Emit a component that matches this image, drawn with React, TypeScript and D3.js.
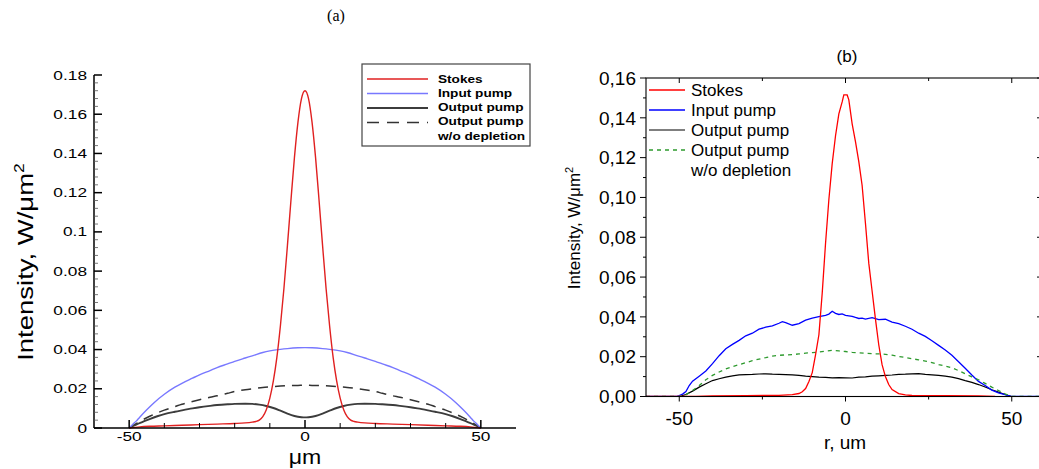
import * as d3 from 'd3';

// ---- panel (a): simulated beam profiles (x in um, intensity in W/um^2)
const stokesA: [number, number][] = [
  [-50, 0], [-47, 0.0006], [-44, 0.0009], [-40, 0.0011], [-35, 0.0014], [-30, 0.0017], [-25, 0.002],
  [-20, 0.0023], [-17, 0.0026], [-15, 0.003], [-14, 0.0033], [-13, 0.004], [-12, 0.0058], [-11, 0.0093],
  [-10, 0.0152], [-9, 0.024], [-8, 0.036], [-7, 0.052], [-6, 0.071], [-5, 0.093], [-4, 0.116], [-3, 0.138],
  [-2, 0.156], [-1, 0.168], [0, 0.172], [1, 0.168], [2, 0.156], [3, 0.138], [4, 0.116], [5, 0.093],
  [6, 0.071], [7, 0.052], [8, 0.036], [9, 0.024], [10, 0.0152], [11, 0.0093], [12, 0.0058], [13, 0.004],
  [14, 0.0033], [15, 0.003], [17, 0.0026], [20, 0.0023], [25, 0.002], [30, 0.0017], [35, 0.0014],
  [40, 0.0011], [44, 0.0009], [47, 0.0006], [50, 0],
];
const inputA: [number, number][] = [
  [-50, 0], [-49, 0.0018], [-48, 0.0035], [-47, 0.0055], [-45, 0.0093], [-43, 0.0128], [-40, 0.0172],
  [-37, 0.0208], [-35, 0.0228], [-32, 0.0254], [-30, 0.0271], [-27, 0.0293], [-25, 0.0308], [-22, 0.0327],
  [-20, 0.034], [-17, 0.0357], [-15, 0.0368], [-12, 0.0385], [-10, 0.0393], [-7, 0.0401], [-5, 0.0405],
  [-2, 0.0409], [0, 0.041], [2, 0.0409], [5, 0.0405], [7, 0.0401], [10, 0.0393], [12, 0.0385], [15, 0.0368],
  [17, 0.0357], [20, 0.034], [22, 0.0327], [25, 0.0308], [27, 0.0293], [30, 0.0271], [32, 0.0254],
  [35, 0.0228], [37, 0.0208], [40, 0.0172], [43, 0.0128], [45, 0.0093], [47, 0.0055], [48, 0.0035],
  [49, 0.0018], [50, 0],
];
const outputA: [number, number][] = [
  [-50, 0], [-48, 0.0017], [-46, 0.0032], [-44, 0.0047], [-42, 0.006], [-40, 0.0071], [-37, 0.0083],
  [-35, 0.009], [-32, 0.01], [-30, 0.0106], [-27, 0.0113], [-25, 0.0117], [-22, 0.0121], [-20, 0.0123],
  [-17, 0.0124], [-15, 0.0123], [-13, 0.0119], [-11, 0.0112], [-9, 0.0102], [-7, 0.0088], [-5, 0.0073],
  [-3, 0.0061], [-1, 0.0055], [0, 0.0054], [1, 0.0055], [3, 0.0061], [5, 0.0073], [7, 0.0088], [9, 0.0102],
  [11, 0.0112], [13, 0.0119], [15, 0.0123], [17, 0.0124], [20, 0.0123], [22, 0.0121], [25, 0.0117],
  [27, 0.0113], [30, 0.0106], [32, 0.01], [35, 0.009], [37, 0.0083], [40, 0.0071], [42, 0.006],
  [44, 0.0047], [46, 0.0032], [48, 0.0017], [50, 0],
];
const undepletedA: [number, number][] = [
  [-50, 0], [-48, 0.0022], [-46, 0.0043], [-44, 0.0061], [-42, 0.0077], [-40, 0.0091], [-37, 0.0109],
  [-35, 0.0121], [-32, 0.0135], [-30, 0.0144], [-27, 0.0157], [-25, 0.0164], [-22, 0.0177], [-20, 0.0186],
  [-17, 0.0195], [-15, 0.02], [-12, 0.0207], [-10, 0.021], [-7, 0.0214], [-5, 0.0216], [-2, 0.0217],
  [0, 0.0218], [2, 0.0217], [5, 0.0216], [7, 0.0214], [10, 0.021], [12, 0.0207], [15, 0.02], [17, 0.0195],
  [20, 0.0186], [22, 0.0177], [25, 0.0164], [27, 0.0157], [30, 0.0144], [32, 0.0135], [35, 0.0121],
  [37, 0.0109], [40, 0.0091], [42, 0.0077], [44, 0.0061], [46, 0.0043], [48, 0.0022], [50, 0],
];

// ---- panel (b): measured profiles
const stokesB: [number, number][] = [
  [-60, 0], [-45, 0], [-40, 0.0003], [-30, 0.0004], [-20, 0.0006], [-16, 0.0009], [-14, 0.0015],
  [-13, 0.0024], [-12, 0.004], [-11, 0.0075], [-10, 0.012], [-9, 0.021], [-8, 0.031], [-7, 0.052],
  [-6, 0.077], [-5, 0.099], [-4, 0.117], [-3, 0.131], [-2, 0.142], [-1, 0.148], [-0.5, 0.1515],
  [0.5, 0.1515], [1, 0.149], [2, 0.137], [3, 0.128], [4, 0.118], [5, 0.106], [6, 0.087], [7, 0.067],
  [8, 0.053], [9, 0.039], [10, 0.026], [11, 0.016], [12, 0.01], [13, 0.006], [14, 0.0035], [16, 0.0015],
  [18, 0.0008], [20, 0.0005], [30, 0.0004], [40, 0.0003], [45, 0],
];
const inputB: [number, number][] = [
  [-60, 0], [-51, 0], [-50, 0.0005], [-49, 0.0012], [-48, 0.0025], [-47, 0.0055], [-46, 0.0077],
  [-44, 0.0102], [-42, 0.0128], [-40, 0.0165], [-38, 0.0205], [-36, 0.024], [-34, 0.0262], [-32, 0.0282],
  [-30, 0.0305], [-28, 0.0318], [-26, 0.0338], [-24, 0.0348], [-22, 0.0355], [-20, 0.0368], [-19, 0.0376],
  [-18, 0.0371], [-16, 0.0358], [-14, 0.0366], [-12, 0.0384], [-10, 0.0394], [-8, 0.0401], [-6, 0.0408],
  [-5, 0.0414], [-4, 0.0428], [-3, 0.0418], [-2, 0.0412], [-1, 0.0415], [0, 0.0408], [2, 0.0403],
  [3, 0.0397], [4, 0.0392], [5, 0.0394], [6, 0.0389], [8, 0.0396], [10, 0.0386], [12, 0.0388],
  [14, 0.0374], [16, 0.0366], [18, 0.0353], [20, 0.0338], [22, 0.0318], [24, 0.0302], [26, 0.028],
  [28, 0.0257], [30, 0.0234], [32, 0.0207], [34, 0.0175], [36, 0.0142], [38, 0.0108], [40, 0.0076],
  [42, 0.0055], [44, 0.0032], [46, 0.0018], [48, 0.001], [49, 0.0005], [50, 0], [60, 0],
];
const outputB: [number, number][] = [
  [-60, 0], [-50, 0], [-48, 0.001], [-46, 0.0027], [-44, 0.0047], [-42, 0.0064], [-40, 0.008],
  [-38, 0.0089], [-36, 0.0097], [-34, 0.0104], [-32, 0.0109], [-30, 0.011], [-28, 0.0111], [-26, 0.0113],
  [-24, 0.0114], [-22, 0.0112], [-20, 0.0111], [-18, 0.011], [-16, 0.0109], [-14, 0.0106], [-12, 0.0102],
  [-10, 0.01], [-8, 0.0097], [-6, 0.0096], [-4, 0.0094], [-2, 0.0095], [0, 0.0094], [2, 0.0093],
  [4, 0.0097], [6, 0.0099], [8, 0.0102], [10, 0.0104], [12, 0.0106], [14, 0.0108], [16, 0.0111],
  [18, 0.0112], [20, 0.0114], [22, 0.0115], [24, 0.0111], [26, 0.0109], [28, 0.0106], [30, 0.0102],
  [32, 0.0097], [34, 0.009], [36, 0.008], [38, 0.0071], [40, 0.006], [42, 0.0048], [44, 0.0034],
  [46, 0.0022], [48, 0.001], [50, 0], [60, 0],
];
const undepletedB: [number, number][] = [
  [-60, 0], [-50, 0], [-48, 0.0008], [-46, 0.003], [-44, 0.0055], [-42, 0.0084], [-40, 0.0106],
  [-38, 0.0123], [-36, 0.0139], [-34, 0.015], [-32, 0.016], [-30, 0.017], [-28, 0.018], [-26, 0.0188],
  [-24, 0.0195], [-22, 0.0203], [-20, 0.0207], [-18, 0.0209], [-16, 0.021], [-14, 0.0214], [-12, 0.0218],
  [-10, 0.022], [-8, 0.0223], [-6, 0.0228], [-4, 0.0232], [-2, 0.0229], [0, 0.0226], [2, 0.0222],
  [4, 0.0219], [6, 0.0217], [8, 0.0215], [10, 0.0214], [12, 0.0212], [14, 0.0208], [16, 0.0201],
  [18, 0.0196], [20, 0.019], [22, 0.0184], [24, 0.0178], [26, 0.017], [28, 0.016], [30, 0.0153],
  [32, 0.0144], [34, 0.013], [36, 0.0114], [38, 0.0099], [40, 0.0084], [42, 0.0066], [44, 0.0047],
  [46, 0.003], [48, 0.0013], [50, 0], [60, 0],
];

// ---- ticks
const xTicksA = [-50, 0, 50];
const xMinorA = [-40, -30, -20, -10, 10, 20, 30, 40];
const yTicksA = [0, 0.02, 0.04, 0.06, 0.08, 0.1, 0.12, 0.14, 0.16, 0.18];
const yTickLabelsA = ['0', '0.02', '0.04', '0.06', '0.08', '0.1', '0.12', '0.14', '0.16', '0.18'];
const xTicksB = [-50, 0, 50];
const xMinorB = [-25, 25];
const yTicksB = [0, 0.02, 0.04, 0.06, 0.08, 0.1, 0.12, 0.14, 0.16];
const yTickLabelsB = ['0,00', '0,02', '0,04', '0,06', '0,08', '0,10', '0,12', '0,14', '0,16'];
const yMinorB = [0.01, 0.03, 0.05, 0.07, 0.09, 0.11, 0.13, 0.15];

const legendNames = ['Stokes', 'Input pump', 'Output pump', 'Output pump'];

const SANS = "Arial, 'Liberation Sans', sans-serif";

const xA = d3.scaleLinear().domain([-60, 60]).range([94, 516]);
const yA = d3.scaleLinear().domain([0, 0.18]).range([428, 75]);
const xB = d3.scaleLinear().domain([-60, 60]).range([646, 1045]);
const yB = d3.scaleLinear().domain([0, 0.16]).range([396.5, 78]);

const lineA = d3.line<[number, number]>().x((d) => xA(d[0])).y((d) => yA(d[1])).curve(d3.curveMonotoneX);
const lineB = d3.line<[number, number]>().x((d) => xB(d[0])).y((d) => yB(d[1]));

// minor ticks on (a) y-axis: 4 between each major
const yMinorA = d3.range(0, 0.18, 0.004).filter((v) => Math.abs(v / 0.02 - Math.round(v / 0.02)) > 0.01);

const stylesA = [
  { stroke: '#e02020', width: 1.4, dash: '' },
  { stroke: '#7878ff', width: 1.4, dash: '' },
  { stroke: '#3c3c3c', width: 1.9, dash: '' },
  { stroke: '#333', width: 1.5, dash: '10,7' },
];
const stylesB = [
  { stroke: '#ff0000', width: 1.3, dash: '' },
  { stroke: '#0000ff', width: 1.3, dash: '' },
  { stroke: '#000', width: 1.2, dash: '' },
  { stroke: '#2e9a2e', width: 1.3, dash: '4,4' },
];

function PanelA() {
  const sx = 1.33;
  return (
    <g>
      <text x={336} y={21} textAnchor="middle" fontFamily="'Liberation Serif', 'Times New Roman', serif" fontSize={16}>(a)</text>

      {/* curves */}
      <path d={lineA(undepletedA) || ''} fill="none" stroke={stylesA[3].stroke} strokeWidth={stylesA[3].width} strokeDasharray={stylesA[3].dash} />
      <path d={lineA(outputA) || ''} fill="none" stroke={stylesA[2].stroke} strokeWidth={stylesA[2].width} />
      <path d={lineA(inputA) || ''} fill="none" stroke={stylesA[1].stroke} strokeWidth={stylesA[1].width} />
      <path d={lineA(stokesA) || ''} fill="none" stroke={stylesA[0].stroke} strokeWidth={stylesA[0].width} />

      {/* axes */}
      <line x1={xA(-60)} x2={xA(60)} y1={yA(0)} y2={yA(0)} stroke="#000" strokeWidth={1.5} />
      <line x1={xA(-60)} x2={xA(-60)} y1={yA(0)} y2={yA(0.18)} stroke="#000" strokeWidth={1.5} />
      {xTicksA.map((t) => (
        <g key={'xa' + t}>
          <line x1={xA(t)} x2={xA(t)} y1={yA(0)} y2={yA(0) - 8} stroke="#000" strokeWidth={1.5} />
          <text transform={`translate(${xA(t)},441) scale(${sx},1)`} textAnchor="middle" fontFamily={SANS} fontSize={13}>{t}</text>
        </g>
      ))}
      {xMinorA.map((t) => (
        <line key={'xma' + t} x1={xA(t)} x2={xA(t)} y1={yA(0)} y2={yA(0) - 5} stroke="#000" strokeWidth={1} />
      ))}
      {yTicksA.map((t, i) => (
        <g key={'ya' + t}>
          <line x1={xA(-60)} x2={xA(-60) + 8} y1={yA(t)} y2={yA(t)} stroke="#000" strokeWidth={1.5} />
          <text transform={`translate(87,${yA(t) + 4.6}) scale(${sx},1)`} textAnchor="end" fontFamily={SANS} fontSize={13}>{yTickLabelsA[i]}</text>
        </g>
      ))}
      {yMinorA.map((t) => (
        <line key={'yma' + t} x1={xA(-60)} x2={xA(-60) + 4} y1={yA(t)} y2={yA(t)} stroke="#555" strokeWidth={0.8} />
      ))}

      <text transform="translate(305,463.5) scale(1.1,1)" textAnchor="middle" fontFamily={SANS} fontSize={21}>μm</text>
      <text transform="translate(33,262) rotate(-90) scale(1.25,1)" textAnchor="middle" fontFamily={SANS} fontSize={22}>
        Intensity, W/μm<tspan dy={-9} fontSize={14}>2</tspan>
      </text>

      {/* legend */}
      <rect x={362} y={64} width={168} height={82} fill="#fff" stroke="#444" strokeWidth={1.2} />
      {stylesA.map((s, i) => (
        <g key={'la' + i}>
          <line x1={367} x2={428} y1={79 + i * 14.5} y2={79 + i * 14.5} stroke={s.stroke} strokeWidth={s.width} strokeDasharray={s.dash ? '12,8' : ''} />
          <text transform={`translate(438,${82.5 + i * 14.3}) scale(1.24,1)`} fontFamily={SANS} fontWeight="bold" fontSize={11}>{legendNames[i]}</text>
        </g>
      ))}
      <text transform={`translate(438,${82.5 + 4 * 14.3}) scale(1.24,1)`} fontFamily={SANS} fontWeight="bold" fontSize={11}>w/o depletion</text>
    </g>
  );
}

function PanelB() {
  const x0 = xB(-60);
  const x1 = xB(60);
  return (
    <g>
      <text x={847} y={62} textAnchor="middle" fontFamily={SANS} fontSize={17}>(b)</text>

      <defs>
        <clipPath id="clipB">
          <rect x={x0} y={yB(0.16)} width={x1 - x0} height={yB(0) - yB(0.16)} />
        </clipPath>
      </defs>
      <g clipPath="url(#clipB)">
        <path d={lineB(outputB) || ''} fill="none" stroke={stylesB[2].stroke} strokeWidth={stylesB[2].width} />
        <path d={lineB(inputB) || ''} fill="none" stroke={stylesB[1].stroke} strokeWidth={stylesB[1].width} />
        <path d={lineB(undepletedB) || ''} fill="none" stroke={stylesB[3].stroke} strokeWidth={stylesB[3].width} strokeDasharray={stylesB[3].dash} />
        <path d={lineB(stokesB) || ''} fill="none" stroke={stylesB[0].stroke} strokeWidth={stylesB[0].width} />
      </g>

      {/* frame */}
      <rect x={x0} y={yB(0.16)} width={x1 - x0} height={yB(0) - yB(0.16)} fill="none" stroke="#000" strokeWidth={1.1} />

      {xTicksB.map((t) => (
        <g key={'xb' + t}>
          <line x1={xB(t)} x2={xB(t)} y1={yB(0)} y2={yB(0) + 5} stroke="#000" strokeWidth={1} />
          <line x1={xB(t)} x2={xB(t)} y1={yB(0.16)} y2={yB(0.16) + 5} stroke="#000" strokeWidth={1} />
          <text x={xB(t)} y={425} textAnchor="middle" fontFamily={SANS} fontSize={19}>{t}</text>
        </g>
      ))}
      {xMinorB.map((t) => (
        <g key={'xmb' + t}>
          <line x1={xB(t)} x2={xB(t)} y1={yB(0)} y2={yB(0) + 3} stroke="#000" strokeWidth={1} />
          <line x1={xB(t)} x2={xB(t)} y1={yB(0.16)} y2={yB(0.16) + 3} stroke="#000" strokeWidth={1} />
        </g>
      ))}
      {yTicksB.map((t, i) => (
        <g key={'yb' + t}>
          <line x1={x0} x2={x0 - 6} y1={yB(t)} y2={yB(t)} stroke="#000" strokeWidth={1} />
          <line x1={x1} x2={x1 - 8} y1={yB(t)} y2={yB(t)} stroke="#000" strokeWidth={1} />
          <text x={636} y={yB(t) + 6.8} textAnchor="end" fontFamily={SANS} fontSize={19}>{yTickLabelsB[i]}</text>
        </g>
      ))}
      {yMinorB.map((t) => (
        <g key={'ymb' + t}>
          <line x1={x0} x2={x0 - 3} y1={yB(t)} y2={yB(t)} stroke="#000" strokeWidth={1} />
          <line x1={x1} x2={x1 - 4} y1={yB(t)} y2={yB(t)} stroke="#000" strokeWidth={1} />
        </g>
      ))}

      <text x={845} y={449} textAnchor="middle" fontFamily={SANS} fontSize={19}>r, um</text>
      <text transform="translate(580,228) rotate(-90)" textAnchor="middle" fontFamily={SANS} fontSize={17}>
        Intensity, W/μm<tspan dy={-7} fontSize={11}>2</tspan>
      </text>

      {/* legend */}
      {stylesB.map((s, i) => (
        <g key={'lb' + i}>
          <line x1={649} x2={685} y1={90 + i * 20} y2={90 + i * 20} stroke={s.stroke} strokeWidth={s.width} strokeDasharray={s.dash} />
          <text x={691} y={96 + i * 20} fontFamily={SANS} fontSize={17}>{legendNames[i]}</text>
        </g>
      ))}
      <text x={691} y={176} fontFamily={SANS} fontSize={17}>w/o depletion</text>
    </g>
  );
}

export default function App() {
  return (
    <svg
      width={1039}
      height={469}
      style={{ position: 'absolute', left: 0, top: 0, display: 'block', background: '#fff' }}
    >
      <rect width={1039} height={469} fill="#fff" />
      <PanelA />
      <PanelB />
    </svg>
  );
}
